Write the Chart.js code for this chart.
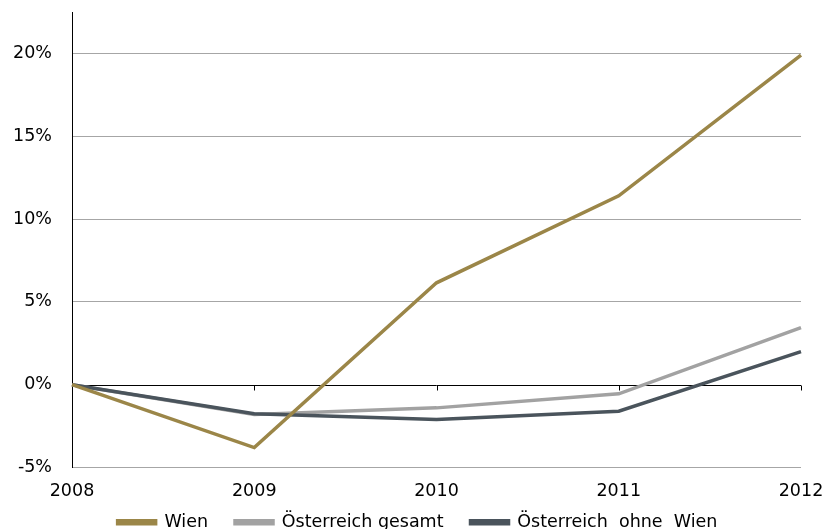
<!DOCTYPE html>
<html>
<head>
<meta charset="utf-8">
<script src="https://cdn.jsdelivr.net/npm/chart.js@4"></script>
<style>
  html, body { margin: 0; padding: 0; background: #fff; overflow: hidden; }
  #wrap { width: 835px; height: 529px; overflow: hidden; }
</style>
</head>
<body>
<div id="wrap"><canvas id="chart" width="835" height="561"></canvas></div>
<script>
'use strict';

const years = ['2008', '2009', '2010', '2011', '2012'];
const wien = [0, -3.8, 6.15, 11.4, 19.9];
const oesterreichGesamt = [0, -1.8, -1.4, -0.55, 3.45];
const oesterreichOhneWien = [0, -1.75, -2.1, -1.6, 2.0];
const yTicks = [-5, 0, 5, 10, 15, 20];

// zero line with small category ticks, drawn under the lines
const zeroAxis = {
    id: 'zeroAxis',
    beforeDatasetsDraw(chart) {
        const { ctx, scales: { x, y } } = chart;
        const y0 = Math.round(y.getPixelForValue(0)) + 0.5;
        ctx.save();
        ctx.strokeStyle = '#000';
        ctx.lineWidth = 1;
        ctx.beginPath();
        ctx.moveTo(x.left, y0);
        ctx.lineTo(x.right, y0);
        years.forEach((yr, i) => {
            const px = Math.round(x.getPixelForValue(i)) + 0.5;
            ctx.moveTo(px, y0);
            ctx.lineTo(px, y0 + 5);
        });
        ctx.stroke();
        ctx.restore();
    }
};

// legend sits close under the year labels and is centred on the whole canvas
const legendPlace = {
    id: 'legendPlace',
    afterLayout(chart) {
        const lg = chart.legend;
        const h = lg.bottom - lg.top;
        lg.top = chart.chartArea.bottom + 19;
        lg.bottom = lg.top + h;
        lg.left = 0;
        lg.right = chart.width;
        lg.width = chart.width;
    }
};

const font = { family: 'DejaVu Sans', size: 17.5 };

new Chart(document.getElementById('chart'), {
    type: 'line',
    data: {
        labels: years,
        datasets: [
            { label: 'Wien', data: wien, borderColor: '#9b8648', backgroundColor: '#9b8648', order: 0 },
            { label: 'Österreich gesamt', data: oesterreichGesamt, borderColor: '#a2a2a2', backgroundColor: '#a2a2a2', order: 2 },
            { label: 'Österreich  ohne  Wien', data: oesterreichOhneWien, borderColor: '#4a545c', backgroundColor: '#4a545c', order: 1 }
        ]
    },
    options: {
        responsive: false,
        animation: false,
        elements: {
            line: { borderWidth: 3.5, tension: 0 },
            point: { radius: 0 }
        },
        layout: { padding: { left: 13, right: 34, top: 12, bottom: 0 } },
        scales: {
            x: {
                offset: false,
                grid: { display: false },
                border: { display: false },
                ticks: { color: '#000', font: font, padding: 5, maxRotation: 0 },
                afterFit: (s) => { s.paddingLeft = 0; s.paddingRight = 0; }
            },
            y: {
                min: -5,
                max: 22.5,
                afterBuildTicks: (scale) => { scale.ticks = yTicks.map(v => ({ value: v })); },
                afterFit: (s) => { s.width = 59; s.paddingTop = 0; s.paddingBottom = 0; },
                grid: {
                    drawTicks: false,
                    color: (c) => c.tick && c.tick.value === 0 ? 'rgba(0,0,0,0)' : '#a6a6a6'
                },
                border: { display: true, color: '#000', width: 1 },
                ticks: { color: '#000', font: font, padding: 20, callback: (v) => v + '%' }
            }
        },
        plugins: {
            tooltip: { enabled: false },
            legend: {
                position: 'bottom',
                labels: {
                    color: '#000',
                    font: font,
                    boxWidth: 38,
                    boxHeight: 3,
                    padding: 27,
                    sort: (a, b) => a.datasetIndex - b.datasetIndex
                }
            }
        }
    },
    plugins: [zeroAxis, legendPlace]
});
</script>
</body>
</html>
